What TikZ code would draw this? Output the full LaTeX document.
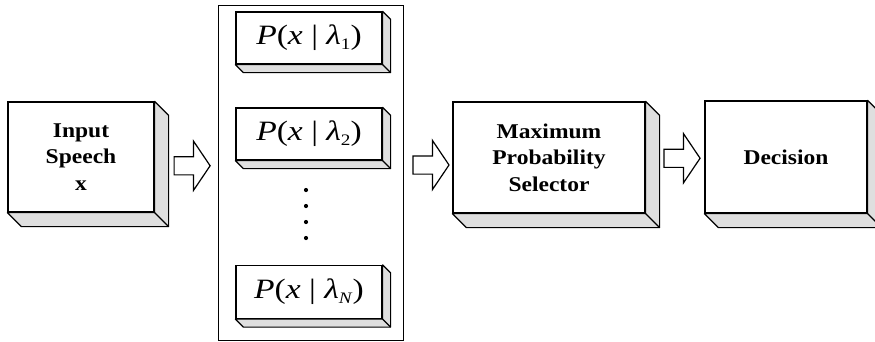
\documentclass[tikz,border=0pt]{standalone}
\usepackage{fontspec}
\usetikzlibrary{calc,shapes.arrows}
\newfontfamily\lblfont{Liberation Serif}[FakeStretch=1.12]
\newfontfamily\eqfont{Liberation Serif}[FakeStretch=1.2]
\newcommand{\lsub}[1]{\raisebox{-5pt}{\fontsize{16}{16}\selectfont #1}}
\newcommand{\peq}[1]{{\eqfont\mdseries\fontsize{28}{32}\selectfont\textit{P}(\textit{x} | \textit{λ}#1)}}
\begin{document}
\begin{tikzpicture}[x=1pt,y=-1pt,
  frontbox/.style={draw=black, line width=1.2pt, fill=white, inner sep=0pt, align=center,
     font=\lblfont\bfseries\fontsize{21}{26.5}\selectfont},
  sidefill/.style={draw=black, line width=1.2pt, fill=gray!25, line join=round},
  bankbox/.style={draw=black, line width=1pt, inner sep=0pt},
  blockarrow/.style={single arrow, draw=black, fill=white, line width=1.2pt,
     minimum height=36pt, inner xsep=0pt, inner ysep=8.5pt,
     single arrow tip angle=112, single arrow head extend=15.5pt},
  dotnode/.style={circle, fill=black, inner sep=0pt, minimum size=4.2pt}]
\useasboundingbox (0,0) rectangle (875,341);
\fill[white] (0,0) rectangle (875,341);

% bevel macro drawn by anchors
\def\bevel#1#2{%
  \filldraw[sidefill] (#1.north east) -- ++(#2,#2) -- ($(#1.south east)+(#2,#2)$)
     -- ($(#1.south west)+(#2,#2)$) -- (#1.south west) -- (#1.south east) -- cycle;
  \draw[line width=1.2pt] (#1.south east) -- ++(#2,#2);}

% main boxes
\node[frontbox, minimum width=146pt, minimum height=110pt] (inp) at (81,157) {Input\\Speech\\x};
\bevel{inp}{14}
\node[frontbox, minimum width=192pt, minimum height=111pt] (sel) at (549,157.5) {Maximum\\Probability\\Selector};
\bevel{sel}{14}
\node[frontbox, minimum width=162pt, minimum height=112pt] (dec) at (786,157) {Decision};
\bevel{dec}{14}

% model bank
\node[bankbox, minimum width=185pt, minimum height=335pt] (bank) at (310.5,172.5) {};
\node[frontbox, minimum width=146pt, minimum height=52pt] (m1) at (309,38) {\peq{\lsub{1}}};
\bevel{m1}{8}
\node[frontbox, minimum width=146pt, minimum height=52pt] (m2) at (309,134) {\peq{\lsub{2}}};
\bevel{m2}{8}
\node[frontbox, minimum width=146pt, minimum height=53pt] (mN) at (309,292) {\peq{\lsub{\textit{N}}}};
\bevel{mN}{8}
\node[dotnode] (d1) at (306,190) {};
\node[dotnode] (d2) at (306,206) {};
\node[dotnode] (d3) at (306,222) {};
\node[dotnode] (d4) at (306,238) {};

% block arrows
\node[blockarrow] (a1) at ($(inp.east)!0.5!(bank.west)+(3,1)$) {};
\node[blockarrow] (a2) at ($(bank.east)!0.5!(sel.west)+(0,0)$) {};
\node[blockarrow] (a3) at ($(sel.east)!0.5!(dec.west)+(4,1)$) {};
\end{tikzpicture}
\end{document}
